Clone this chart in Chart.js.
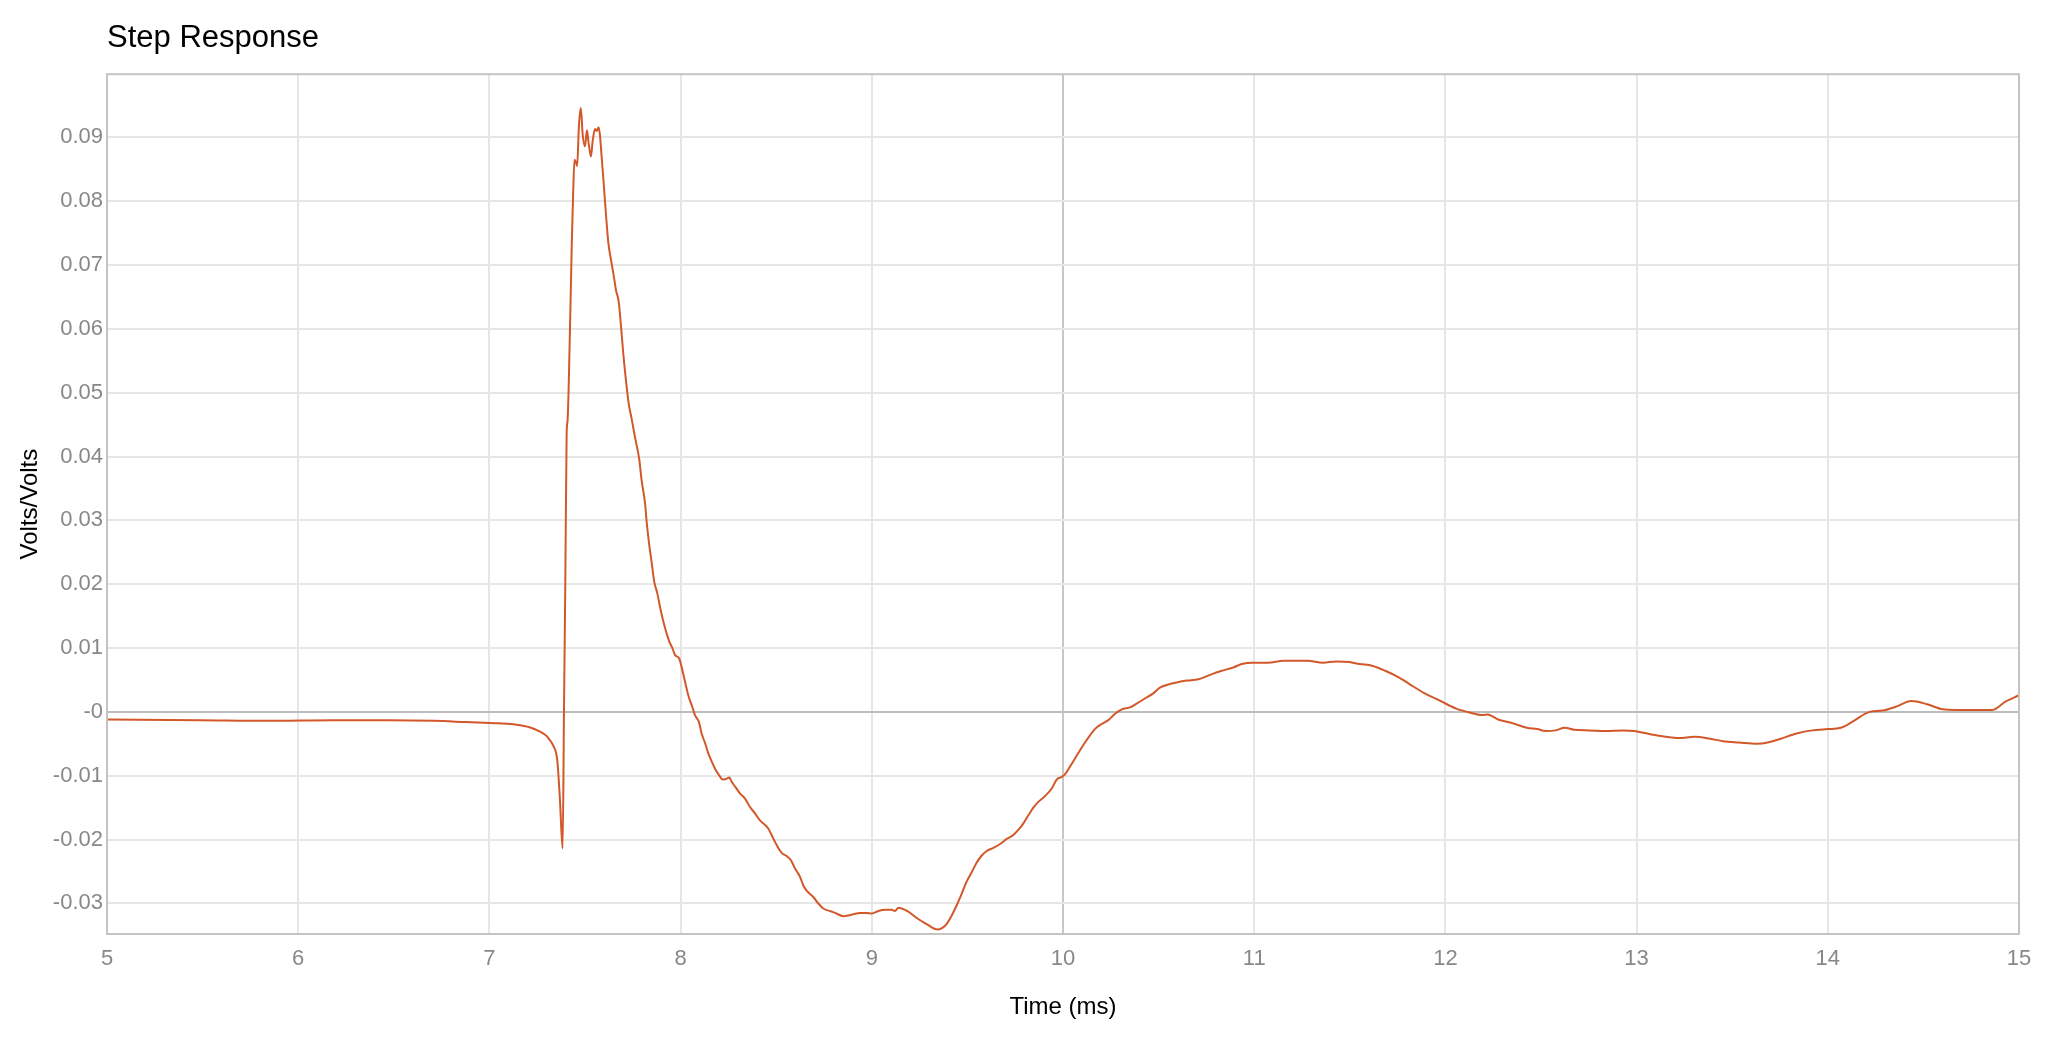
<!DOCTYPE html>
<html>
<head>
<meta charset="utf-8">
<script src="https://cdn.jsdelivr.net/npm/chart.js@4.4.1/dist/chart.umd.min.js"></script>
<style>
html,body{margin:0;padding:0;background:#fff;}
#c{display:block;}
</style>
</head>
<body>
<canvas id="c" width="2048" height="1054"></canvas>
<script>
const chartTitle = "Step Response";
const xTitle = "Time (ms)";
const yTitle = "Volts/Volts";

const timeMs = [
5.00,5.49,5.84,6.18,6.48,6.71,6.88,7.05,7.14,7.21,7.265,7.30,7.31,7.334,7.355,7.369,7.383,
7.390,7.397,7.404,7.409,7.421,7.431,7.438,7.445,7.452,7.459,7.468,7.478,7.488,7.500,7.510,
7.519,7.531,7.540,7.552,7.561,7.571,7.578,7.587,7.599,7.609,7.622,7.636,7.651,7.662,7.676,
7.687,7.700,7.714,7.728,7.744,7.761,7.784,7.796,7.814,7.823,7.835,7.849,7.862,7.878,7.892,
7.910,7.927,7.941,7.957,7.971,7.992,8.011,8.025,8.042,8.061,8.075,8.096,8.110,8.128,8.145,
8.163,8.180,8.201,8.220,8.237,8.255,8.268,8.285,8.311,8.337,8.363,8.389,8.415,8.441,8.459,
8.476,8.503,8.529,8.555,8.576,8.598,8.624,8.642,8.659,8.694,8.720,8.746,8.781,8.808,8.851,
8.877,8.904,8.938,8.973,9.000,9.034,9.069,9.104,9.121,9.139,9.156,9.191,9.226,9.261,9.296,
9.322,9.348,9.371,9.392,9.418,9.444,9.470,9.496,9.523,9.549,9.575,9.601,9.636,9.671,9.706,
9.740,9.766,9.792,9.819,9.845,9.871,9.906,9.941,9.967,9.993,10.010,10.036,10.063,10.089,
10.124,10.167,10.202,10.237,10.272,10.307,10.350,10.385,10.429,10.472,10.507,10.542,10.594,
10.647,10.708,10.769,10.826,10.894,10.935,10.990,11.072,11.154,11.209,11.278,11.360,11.428,
11.497,11.551,11.620,11.688,11.751,11.810,11.892,11.975,12.057,12.125,12.194,12.221,12.276,
12.344,12.426,12.481,12.523,12.577,12.624,12.673,12.755,12.837,12.933,12.988,13.070,13.152,
13.221,13.302,13.384,13.453,13.535,13.631,13.686,13.754,13.836,13.918,14.000,14.068,14.136,
14.219,14.287,14.355,14.437,14.519,14.601,14.670,14.765,14.861,14.929,15.000
];

const response = [
-0.0012,-0.0013,-0.0014,-0.0013,-0.0013,-0.0014,-0.0016,-0.0018,-0.0020,-0.0024,-0.0031,-0.0038,-0.0042,-0.0053,-0.0076,-0.0138,-0.0214,
0.0000,0.0201,0.0437,0.0457,0.0594,0.0735,0.0813,0.0865,0.0862,0.0855,0.0917,0.0946,0.0904,0.0886,0.0911,
0.0891,0.0870,0.0894,0.0913,0.0910,0.0916,0.0904,0.0870,0.0823,0.0782,0.0735,0.0708,0.0682,0.0661,0.0643,
0.0609,0.0562,0.0520,0.0484,0.0459,0.0431,0.0395,0.0363,0.0327,0.0296,0.0264,0.0233,0.0204,0.0186,0.0165,
0.0141,0.0123,0.0110,0.0100,0.0089,0.0084,0.0063,0.0045,0.0024,0.0008,-0.0005,-0.0016,-0.0034,-0.0049,-0.0065,
-0.0078,-0.0089,-0.0099,-0.0106,-0.0105,-0.0103,-0.0110,-0.0117,-0.0128,-0.0136,-0.0149,-0.0159,-0.0170,-0.0177,-0.0183,
-0.0193,-0.0209,-0.0221,-0.0226,-0.0232,-0.0245,-0.0258,-0.0272,-0.0280,-0.0290,-0.0300,-0.0308,-0.0312,-0.0315,-0.0320,
-0.0319,-0.0317,-0.0315,-0.0315,-0.0316,-0.0312,-0.0310,-0.0310,-0.0312,-0.0307,-0.0308,-0.0313,-0.0321,-0.0328,-0.0334,
-0.0339,-0.0341,-0.0338,-0.0332,-0.0319,-0.0303,-0.0285,-0.0266,-0.0251,-0.0236,-0.0225,-0.0218,-0.0213,-0.0207,-0.0199,
-0.0193,-0.0185,-0.0175,-0.0162,-0.0150,-0.0141,-0.0132,-0.0120,-0.0106,-0.0102,-0.0098,-0.0086,-0.0073,-0.0060,
-0.0044,-0.0027,-0.0019,-0.0013,-0.0003,0.0004,0.0007,0.0013,0.0021,0.0029,0.0038,0.0042,0.0046,
0.0049,0.0051,0.0058,0.0064,0.0070,0.0075,0.0077,0.0077,0.0080,0.0080,0.0080,0.0077,0.0079,
0.0078,0.0075,0.0072,0.0064,0.0055,0.0044,0.0029,0.0017,0.0005,-0.0001,-0.0005,-0.0004,-0.0012,
-0.0017,-0.0025,-0.0027,-0.0030,-0.0029,-0.0025,-0.0028,-0.0029,-0.0030,-0.0029,-0.0030,-0.0035,-0.0039,
-0.0041,-0.0039,-0.0042,-0.0046,-0.0048,-0.0050,-0.0048,-0.0042,-0.0034,-0.0029,-0.0027,-0.0025,-0.0014,
0.0000,0.0002,0.0008,0.0017,0.0012,0.0004,0.0003,0.0003,0.0003,0.0016,0.0026
];

const xMin = 5, xMax = 15, xStep = 1;
const yMin = -0.0348, yMax = 0.0999, yStep = 0.01;

const FONT = "'Liberation Sans', Arial, Helvetica, sans-serif";

const framePlugin = {
  id: 'frame',
  afterDraw(chart) {
    const a = chart.chartArea, ctx = chart.ctx;
    ctx.save();
    ctx.strokeStyle = '#c4c4c4';
    ctx.lineWidth = 2;
    ctx.strokeRect(a.left, a.top, a.right - a.left, a.bottom - a.top);
    ctx.restore();
  }
};

new Chart(document.getElementById('c'), {
  type: 'line',
  data: {
    datasets: [{
      data: timeMs.map((t, i) => ({x: t, y: response[i]})),
      borderColor: '#d2582a',
      borderWidth: 2,
      pointRadius: 0,
      fill: false,
      cubicInterpolationMode: 'monotone'
    }]
  },
  options: {
    responsive: false,
    animation: false,
    devicePixelRatio: 1,
    layout: { padding: { left: 0, right: 29, top: 0, bottom: 0 } },
    plugins: {
      legend: { display: false },
      tooltip: { enabled: false },
      title: {
        display: true,
        text: chartTitle,
        align: 'start',
        fullSize: false,
        color: '#000',
        font: { family: FONT, size: 31, weight: 'normal' },
        padding: { top: 20, bottom: 17 }
      }
    },
    scales: {
      x: {
        type: 'linear',
        min: xMin, max: xMax,
        afterFit(s) { s.height = 120; },
        ticks: {
          stepSize: xStep,
          color: '#888',
          padding: 12,
          font: { family: FONT, size: 22 },
          maxRotation: 0
        },
        grid: {
          drawTicks: false,
          lineWidth: 2,
          color: c => (c.tick && c.tick.value === 10) ? '#c8c8c8' : '#e6e6e6'
        },
        border: { display: false },
        title: {
          display: true,
          text: xTitle,
          color: '#000',
          font: { family: FONT, size: 24 },
          padding: { top: 0, bottom: 32 }
        }
      },
      y: {
        type: 'linear',
        min: yMin, max: yMax,
        afterFit(s) { s.width = 107; },
        ticks: {
          stepSize: yStep,
          includeBounds: false,
          color: '#888',
          padding: 4,
          font: { family: FONT, size: 22 },
          callback: v => Math.abs(v) < 1e-9 ? '-0' : v.toFixed(2)
        },
        grid: {
          drawTicks: false,
          lineWidth: 2,
          color: c => (c.tick && Math.abs(c.tick.value) < 1e-9) ? '#bdbdbd' : '#e6e6e6'
        },
        border: { display: false },
        title: {
          display: true,
          text: yTitle,
          color: '#000',
          font: { family: FONT, size: 24 },
          padding: { top: 16, bottom: 0 }
        }
      }
    }
  },
  plugins: [framePlugin]
});
</script>
</body>
</html>
